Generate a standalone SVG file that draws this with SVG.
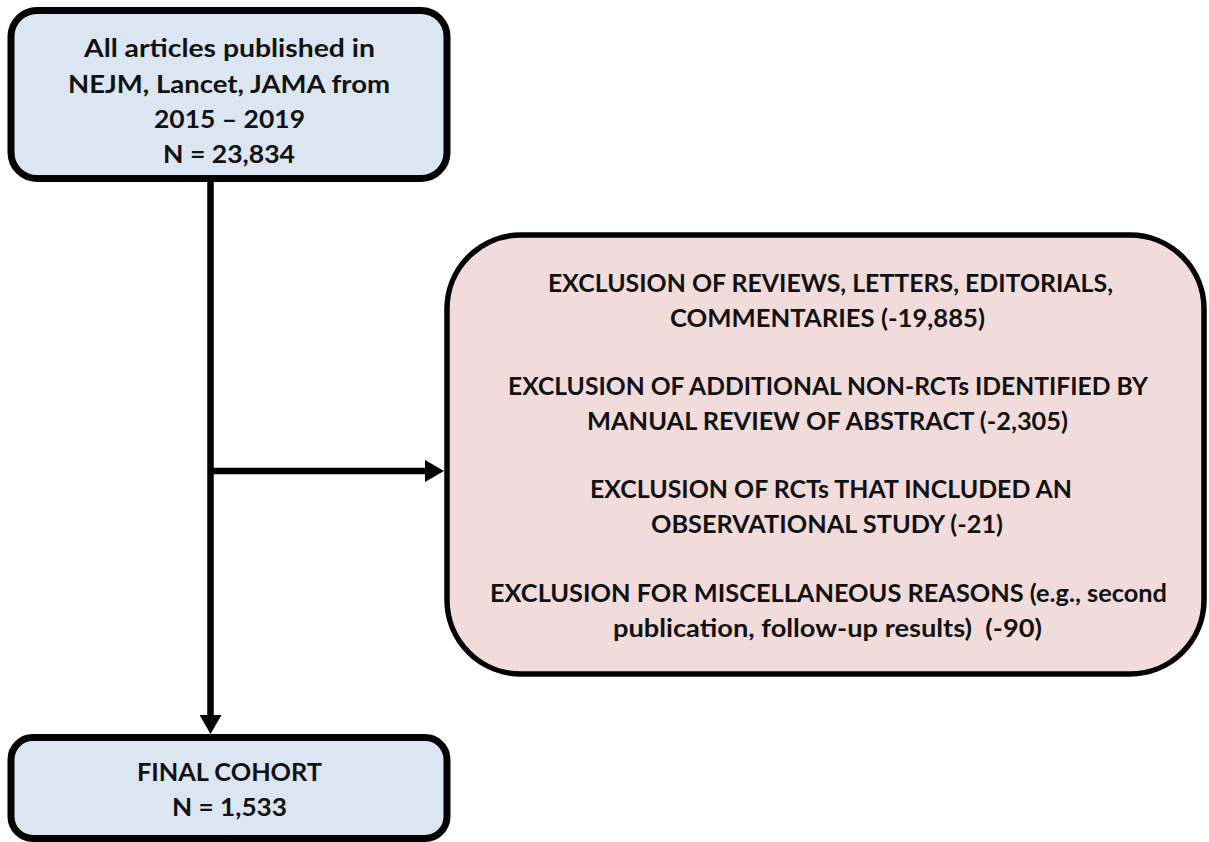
<svg xmlns="http://www.w3.org/2000/svg" width="1209" height="842" viewBox="0 0 1209 842">
<style>
.blue{fill:#dce6f2;stroke:#000;stroke-width:7}
.pink{fill:#f2dcdb;stroke:#000;stroke-width:5.5}
text{font-family:Lato,"Open Sans","Liberation Sans",sans-serif;font-weight:bold;font-size:25px;fill:#111;text-anchor:middle}
.conn{stroke:#000;stroke-width:6.5;fill:none}
</style>
<defs>
<marker id="arr" markerUnits="userSpaceOnUse" markerWidth="20" markerHeight="22" refX="0" refY="11" orient="auto">
<path d="M0,0 L19,11 L0,22 Z" fill="#000"/>
</marker>
</defs>
<rect width="1209" height="842" fill="#fff"/>
<g id="connectors">
<path class="conn" d="M210.5,178 L210.5,715" marker-end="url(#arr)"/>
<path class="conn" d="M210.5,471 L425,471" marker-end="url(#arr)"/>
</g>
<g id="node-start">
<rect class="blue" x="11" y="10.5" width="436" height="168" rx="26"/>
<text x="229.5" y="57" textLength="291" lengthAdjust="spacingAndGlyphs">All articles published in</text>
<text x="229" y="93" textLength="322" lengthAdjust="spacingAndGlyphs">NEJM, Lancet, JAMA from</text>
<text x="229.5" y="128" textLength="151" lengthAdjust="spacingAndGlyphs">2015 – 2019</text>
<text x="229" y="163" textLength="132" lengthAdjust="spacingAndGlyphs">N = 23,834</text>
</g>
<g id="node-exclusions">
<rect class="pink" x="447" y="235" width="757" height="439" rx="74"/>
<text x="830.5" y="292" textLength="565" lengthAdjust="spacingAndGlyphs">EXCLUSION OF REVIEWS, LETTERS, EDITORIALS,</text>
<text x="827.5" y="327" textLength="315" lengthAdjust="spacingAndGlyphs">COMMENTARIES (-19,885)</text>
<text x="828" y="395" textLength="640" lengthAdjust="spacingAndGlyphs">EXCLUSION OF ADDITIONAL NON-RCTs IDENTIFIED BY</text>
<text x="827.5" y="430" textLength="481" lengthAdjust="spacingAndGlyphs">MANUAL REVIEW OF ABSTRACT (-2,305)</text>
<text x="831" y="498" textLength="482" lengthAdjust="spacingAndGlyphs">EXCLUSION OF RCTs THAT INCLUDED AN</text>
<text x="827" y="533" textLength="352" lengthAdjust="spacingAndGlyphs">OBSERVATIONAL STUDY (-21)</text>
<text x="828.5" y="602" textLength="677" lengthAdjust="spacingAndGlyphs">EXCLUSION FOR MISCELLANEOUS REASONS (e.g., second</text>
<text x="827.5" y="637" textLength="429" lengthAdjust="spacingAndGlyphs" xml:space="preserve">publication, follow-up results)  (-90)</text>
</g>
<g id="node-final">
<rect class="blue" x="11" y="737.5" width="436" height="101" rx="22"/>
<text x="229.5" y="781" textLength="185" lengthAdjust="spacingAndGlyphs">FINAL COHORT</text>
<text x="229.5" y="816" textLength="115" lengthAdjust="spacingAndGlyphs">N = 1,533</text>
</g>
</svg>
